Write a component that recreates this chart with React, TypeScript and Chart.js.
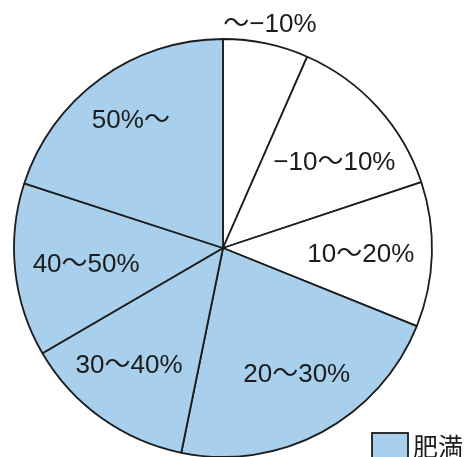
import React, { useEffect, useRef } from "react";
import { Chart, registerables } from "chart.js";

Chart.register(...registerables);

const categories = ["〜−10%", "−10〜10%", "10〜20%", "20〜30%", "30〜40%", "40〜50%", "50%〜"];
const shares = [6.6, 13.3, 11.2, 22.1, 13.4, 13.4, 20.0];
const obese = [false, false, false, true, true, true, true];
const legendLabel = "肥満";

const BLUE = "#a8cfec";
const INK = "#1c1c1c";
const labelRadius = [1.09, 0.67, 0.66, 0.7, 0.72, 0.66, 0.75];
const labelAngleShift = [0, 5, 1, -2, 3, -1, 0];
const FONT = "'Liberation Sans', Arial, 'Noto Sans CJK JP', sans-serif";

const labelPlugin = {
  id: "sliceLabels",
  afterDatasetsDraw(chart: any) {
    const ctx = chart.ctx;
    const meta = chart.getDatasetMeta(0);
    ctx.save();
    ctx.fillStyle = INK;
    ctx.font = `26px ${FONT}`;
    ctx.textAlign = "center";
    ctx.textBaseline = "middle";
    meta.data.forEach((arc: any, i: number) => {
      const { x, y, startAngle, endAngle, outerRadius } = arc.getProps(
        ["x", "y", "startAngle", "endAngle", "outerRadius"],
        true
      );
      const mid = (startAngle + endAngle) / 2 + (labelAngleShift[i] * Math.PI) / 180;
      const r = outerRadius * labelRadius[i];
      ctx.fillText(categories[i], x + Math.cos(mid) * r, y + Math.sin(mid) * r);
    });
    // legend
    const bx = 372, by = 433, bw = 36, bh = 30;
    ctx.fillStyle = BLUE;
    ctx.fillRect(bx, by, bw, bh);
    ctx.strokeStyle = INK;
    ctx.lineWidth = 1.8;
    ctx.strokeRect(bx, by, bw, bh);
    ctx.fillStyle = INK;
    ctx.font = `25px 'Noto Sans CJK JP', sans-serif`;
    ctx.textAlign = "left";
    ctx.fillText(legendLabel, 413, 446);
    ctx.restore();
  },
};

export default function App() {
  const ref = useRef<HTMLCanvasElement>(null);
  useEffect(() => {
    const chart = new Chart(ref.current!, {
      type: "pie",
      data: {
        labels: categories,
        datasets: [
          {
            data: shares,
            backgroundColor: obese.map((o) => (o ? BLUE : "#ffffff")),
            borderColor: INK,
            borderWidth: 1.8,
          },
        ],
      },
      options: {
        responsive: false,
        animation: false,
        radius: 209,
        layout: { padding: { top: 39, bottom: 0, left: 14, right: 32 } },
        plugins: { legend: { display: false }, tooltip: { enabled: false } },
        elements: { arc: { borderAlign: "center" } },
      } as any,
      plugins: [labelPlugin],
    });
    return () => chart.destroy();
  }, []);
  return (
    <div style={{ position: "fixed", left: 0, top: 0, width: 464, height: 457, background: "#fff" }}>
      <canvas ref={ref} width={464} height={457} />
    </div>
  );
}
